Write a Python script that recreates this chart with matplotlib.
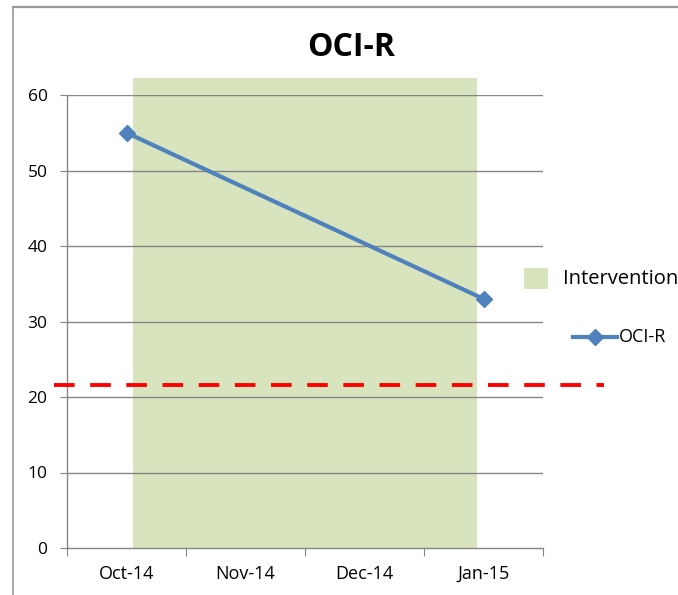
import matplotlib
matplotlib.use("Agg")
import matplotlib.pyplot as plt
from matplotlib.patches import Rectangle
from matplotlib.lines import Line2D
from matplotlib.transforms import blended_transform_factory

plt.rcParams['font.family'] = ['Open Sans', 'DejaVu Sans']

# ---- data ----
months = ["Oct-14", "Nov-14", "Dec-14", "Jan-15"]
oci_r = [55, 33]
oci_r_idx = [0, 3]
intervention_span = [0.055, 2.945]
intervention_top = 62.2
cutoff = 21.6
yticks = [0, 10, 20, 30, 40, 50, 60]

W, H = 678, 595
fig = plt.figure(figsize=(W / 100, H / 100), dpi=100)

green = "#D7E4BD"
blue = "#4F81BD"
grey = "#868686"

# outer chart frame (top and left edges only visible)
fig.lines.append(Line2D([13 / W, 1.0], [1 - 6.5 / H, 1 - 6.5 / H], transform=fig.transFigure,
                        color="#9A9A9A", linewidth=1.6))
fig.lines.append(Line2D([13 / W, 13 / W], [0.0, 1 - 6.5 / H], transform=fig.transFigure,
                        color="#9A9A9A", linewidth=1.2))

ax = fig.add_axes([67 / W, 47 / H, 476 / W, 453 / H])
ax.set_xlim(-0.5, 3.5)
ax.set_ylim(0, 60)

ax.fill_between(intervention_span, 0, intervention_top, color=green, linewidth=0,
                clip_on=False, zorder=1)

for y in yticks[1:]:
    ax.axhline(y, color=grey, linewidth=1.0, zorder=2)

ax.plot(oci_r_idx, oci_r, color=blue, linewidth=3, marker="D", markersize=8,
        zorder=4, clip_on=False)

# cutoff dashed line extends beyond axes
tr = blended_transform_factory(fig.transFigure, ax.transData)
ax.plot([54 / W, 604 / W], [cutoff, cutoff], transform=tr, color="#FF0000",
        linewidth=2.8, linestyle=(0, (5.3, 4.0)), clip_on=False, zorder=5)

for s in ["top", "right"]:
    ax.spines[s].set_visible(False)
for s in ["left", "bottom"]:
    ax.spines[s].set_color(grey)
    ax.spines[s].set_linewidth(1.0)

ax.set_yticks(yticks)
ax.set_yticklabels([str(v) for v in yticks], fontsize=12.5)
ax.tick_params(axis="y", length=5, color=grey, pad=9)

ax.set_xticks([i - 0.5 for i in range(len(months) + 1)])
ax.set_xticklabels([])
ax.set_xticks(range(len(months)), minor=True)
ax.set_xticklabels(months, minor=True, fontsize=13)
ax.tick_params(axis="x", which="major", length=6, color=grey)
ax.tick_params(axis="x", which="minor", length=0, pad=12)

fig.text(351 / W, 1 - 47 / H, "OCI-R", fontsize=23, fontweight="bold",
         ha="center", va="center")

# legend
fig.patches.append(Rectangle((524 / W, 1 - 289 / H), 24 / W, 21 / H,
                             transform=fig.transFigure, facecolor=green, edgecolor="none"))
fig.text(563 / W, 1 - 279 / H, "Intervention", fontsize=14.5, ha="left", va="center")
fig.lines.append(Line2D([573 / W, 617 / W], [1 - 337 / H, 1 - 337 / H], transform=fig.transFigure,
                        color=blue, linewidth=3))
fig.lines.append(Line2D([595 / W], [1 - 337 / H], transform=fig.transFigure,
                        color=blue, marker="D", markersize=8, linestyle="none"))
fig.text(619 / W, 1 - 337 / H, "OCI-R", fontsize=13, ha="left", va="center")

fig.savefig("out.png", dpi=100)
